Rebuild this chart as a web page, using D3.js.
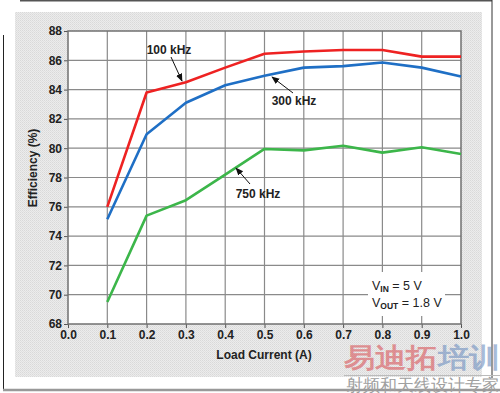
<!DOCTYPE html>
<html>
<head>
<meta charset="utf-8">
<script src="https://cdn.jsdelivr.net/npm/d3@7"></script>
<style>
  body { margin: 0; background: #fff; }
  svg { display: block; }
  text { font-family: "Liberation Sans", Arial, sans-serif; }
</style>
</head>
<body>
<script>
// data
var loadCurrent = [0.1, 0.2, 0.3, 0.4, 0.5, 0.6, 0.7, 0.8, 0.9, 1.0];
var eff100k = [76.0, 83.8, 84.5, 85.5, 86.45, 86.6, 86.7, 86.7, 86.25, 86.25];
var eff300k = [75.15, 80.95, 83.1, 84.3, 84.95, 85.5, 85.6, 85.85, 85.5, 84.9];
var eff750k = [69.5, 75.4, 76.45, 78.2, 79.95, 79.85, 80.17, 79.7, 80.07, 79.6];
var xTicks = [0, 0.1, 0.2, 0.3, 0.4, 0.5, 0.6, 0.7, 0.8, 0.9, 1.0];
var yTicks = [68, 70, 72, 74, 76, 78, 80, 82, 84, 86, 88];

var W = 500, H = 393;
var pL = 68, pR = 461, pT = 31, pB = 324;

var svg = d3.select("body").append("svg")
    .attr("width", W)
    .attr("height", H);

// stipple texture for the grey panel
var defs = svg.append("defs");
var pat = defs.append("pattern")
    .attr("id", "stip")
    .attr("width", 2).attr("height", 2)
    .attr("patternUnits", "userSpaceOnUse");
pat.append("rect").attr("width", 2).attr("height", 2).attr("fill", "#ececec");
pat.append("rect").attr("width", 1).attr("height", 1).attr("fill", "#d9d9d9");
pat.append("rect").attr("x", 1).attr("y", 1).attr("width", 1).attr("height", 1).attr("fill", "#e0e0e0");

// outer frame
svg.append("line").attr("x1", 20).attr("x2", 492).attr("y1", 0.5).attr("y2", 0.5)
    .attr("stroke", "#555").attr("stroke-width", 2);
svg.append("line").attr("x1", 492).attr("x2", 492).attr("y1", 0).attr("y2", 378)
    .attr("stroke", "#333").attr("stroke-width", 1);
svg.append("line").attr("x1", 3.5).attr("x2", 3.5).attr("y1", 35).attr("y2", 390)
    .attr("stroke", "#222").attr("stroke-width", 1);
svg.append("line").attr("x1", 3).attr("x2", 500).attr("y1", 390).attr("y2", 390)
    .attr("stroke", "#999").attr("stroke-width", 2.5);

// grey panel
svg.append("rect")
    .attr("x", 15).attr("y", 12)
    .attr("width", 467).attr("height", 365)
    .attr("fill", "url(#stip)");

var x = d3.scaleLinear().domain([0, 1]).range([pL, pR]);
var y = d3.scaleLinear().domain([68, 88]).range([pB, pT]);

// plot area
svg.append("rect")
    .attr("x", pL).attr("y", pT)
    .attr("width", pR - pL).attr("height", pB - pT)
    .attr("fill", "#fff");

// grid
svg.append("g").selectAll("line")
    .data(xTicks.slice(1, -1))
    .enter().append("line")
    .attr("x1", function(d){ return x(d); })
    .attr("x2", function(d){ return x(d); })
    .attr("y1", pT).attr("y2", pB)
    .attr("stroke", "#8a8a8a").attr("stroke-width", 1.2);
svg.append("g").selectAll("line")
    .data(yTicks.slice(1, -1))
    .enter().append("line")
    .attr("x1", pL).attr("x2", pR)
    .attr("y1", function(d){ return y(d); })
    .attr("y2", function(d){ return y(d); })
    .attr("stroke", "#8a8a8a").attr("stroke-width", 1.2);

// axes
var xAxis = svg.append("g")
    .attr("transform", "translate(0," + pB + ")")
    .call(d3.axisBottom(x).tickValues(xTicks).tickFormat(d3.format(".1f")).tickSize(4).tickSizeOuter(0));
var yAxis = svg.append("g")
    .attr("transform", "translate(" + pL + ",0)")
    .call(d3.axisLeft(y).tickValues(yTicks).tickFormat(d3.format("d")).tickSize(4).tickSizeOuter(0));

[xAxis, yAxis].forEach(function(a) {
    a.select(".domain").remove();
    a.selectAll(".tick line").attr("stroke", "#555");
    a.selectAll(".tick text")
        .attr("font-family", "Liberation Sans, Arial, sans-serif")
        .attr("font-size", 12)
        .attr("font-weight", "bold")
        .attr("fill", "#222");
});
xAxis.selectAll(".tick text").attr("y", 6);
yAxis.selectAll(".tick text").attr("x", -6);

// plot border
svg.append("rect")
    .attr("x", pL).attr("y", pT)
    .attr("width", pR - pL).attr("height", pB - pT)
    .attr("fill", "none").attr("stroke", "#707070").attr("stroke-width", 1.5);

// VIN / VOUT box
svg.append("rect")
    .attr("x", 368).attr("y", 272).attr("width", 77).attr("height", 44)
    .attr("fill", "#fff");
var t1 = svg.append("text").attr("x", 372).attr("y", 290)
    .attr("font-size", 12.5).attr("fill", "#222");
t1.append("tspan").text("V");
t1.append("tspan").attr("font-size", 8.5).attr("font-weight", "bold").attr("dy", 2).text("IN");
t1.append("tspan").attr("dy", -2).text(" = 5 V");
var t2 = svg.append("text").attr("x", 372).attr("y", 307)
    .attr("font-size", 12.5).attr("fill", "#222");
t2.append("tspan").text("V");
t2.append("tspan").attr("font-size", 8.5).attr("font-weight", "bold").attr("dy", 2).text("OUT");
t2.append("tspan").attr("dy", -2).text(" = 1.8 V");

// curves
var series = [
    { name: "750 kHz", values: eff750k, color: "#3cb64a" },
    { name: "300 kHz", values: eff300k, color: "#1f6fc5" },
    { name: "100 kHz", values: eff100k, color: "#ee2222" }
];
var line = d3.line()
    .x(function(d, i){ return x(loadCurrent[i]); })
    .y(function(d){ return y(d); });
svg.append("g").selectAll("path")
    .data(series)
    .enter().append("path")
    .attr("d", function(d){ return line(d.values); })
    .attr("fill", "none")
    .attr("stroke", function(d){ return d.color; })
    .attr("stroke-width", 2.6)
    .attr("stroke-linejoin", "round");

// annotations with arrows
defs.append("marker")
    .attr("id", "arr")
    .attr("viewBox", "0 0 10 10")
    .attr("refX", 9).attr("refY", 5)
    .attr("markerWidth", 8).attr("markerHeight", 8)
    .attr("markerUnits", "userSpaceOnUse")
    .attr("orient", "auto")
    .append("path").attr("d", "M0,1 L10,5 L0,9 Z").attr("fill", "#111");

var notes = [
    { label: "100 kHz", tx: 169, ty: 54, x1: 171, y1: 57, x2: 182, y2: 81 },
    { label: "300 kHz", tx: 294, ty: 105, x1: 293, y1: 93, x2: 272, y2: 77 },
    { label: "750 kHz", tx: 258, ty: 198, x1: 250, y1: 184, x2: 236, y2: 168 }
];
notes.forEach(function(n) {
    svg.append("line")
        .attr("x1", n.x1).attr("y1", n.y1).attr("x2", n.x2).attr("y2", n.y2)
        .attr("stroke", "#111").attr("stroke-width", 1)
        .attr("marker-end", "url(#arr)");
    svg.append("text")
        .attr("x", n.tx).attr("y", n.ty)
        .attr("text-anchor", "middle")
        .attr("font-size", 12).attr("font-weight", "bold")
        .attr("fill", "#222")
        .text(n.label);
});

// axis titles
svg.append("text")
    .attr("transform", "translate(37,168) rotate(-90)")
    .attr("text-anchor", "middle")
    .attr("font-size", 12).attr("font-weight", "bold").attr("fill", "#222")
    .text("Efficiency (%)");
svg.append("text")
    .attr("x", 264).attr("y", 359)
    .attr("text-anchor", "middle")
    .attr("font-size", 12).attr("font-weight", "bold").attr("fill", "#222")
    .text("Load Current (A)");

// watermark
svg.append("line").attr("x1", 344).attr("x2", 500).attr("y1", 375.5).attr("y2", 375.5)
    .attr("stroke", "#bbb").attr("stroke-width", 1);
var wm = svg.append("text")
    .attr("x", 344).attr("y", 367)
    .attr("font-family", "Noto Sans CJK SC")
    .attr("font-size", 27).attr("font-weight", "bold")
    .attr("textLength", 156).attr("lengthAdjust", "spacingAndGlyphs")
    .attr("opacity", 0.6);
wm.append("tspan").attr("fill", "#d9555a").text("易迪拓");
wm.append("tspan").attr("fill", "#6f8fc0").text("培训");
svg.append("text")
    .attr("x", 346).attr("y", 391)
    .attr("font-family", "Noto Sans CJK SC")
    .attr("font-size", 16.5)
    .attr("fill", "#a0a0a0")
    .text("射频和天线设计专家");
</script>
</body>
</html>
